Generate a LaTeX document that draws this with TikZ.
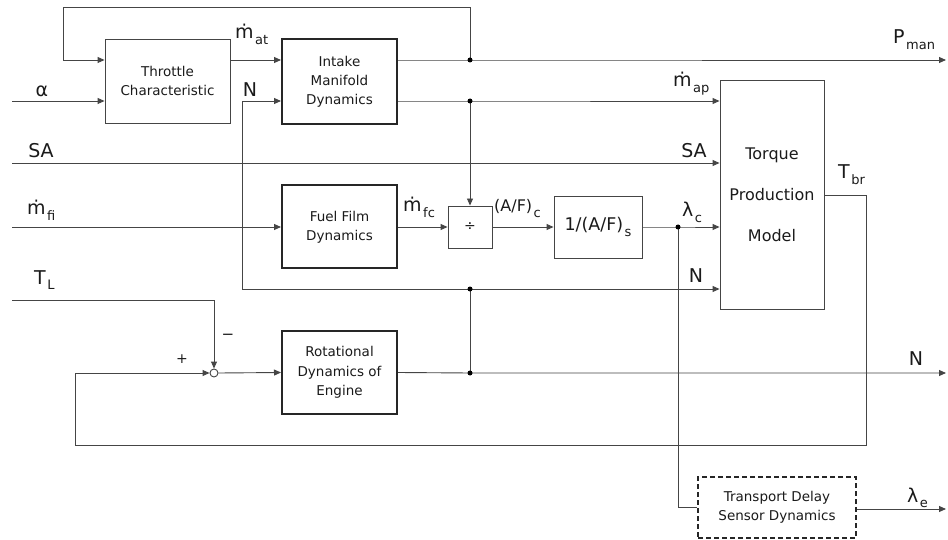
\documentclass[tikz,border=0pt]{standalone}
\usepackage{fontspec}
\setmainfont{DejaVu Sans}
\usetikzlibrary{arrows.meta}
\newcommand{\lsub}[1]{\kern1.5pt\raisebox{-5.5pt}{\fontsize{13}{13}\selectfont #1}}
\definecolor{ln}{HTML}{454545}
\definecolor{tx}{HTML}{1A1A1A}
\begin{document}
\begin{tikzpicture}[x=1pt,y=-1pt,
  line/.style={draw=ln, line width=0.9pt},
  arr/.style={line, -{Triangle[length=7pt,width=6pt]}},
  blk/.style={draw=ln, line width=0.9pt, align=center, text=tx, inner sep=0pt,
    font=\fontsize{13.5}{19}\selectfont},
  tblk/.style={blk, draw=black!85, line width=2pt},
  lab/.style={text=tx, inner sep=0pt, font=\fontsize{19}{19}\selectfont},
  jdot/.style={circle, fill=black, inner sep=0pt, minimum size=5pt}]
\useasboundingbox (0,0) rectangle (948,540);

% blocks
\node[blk, minimum width=125pt, minimum height=84pt] (thr) at (167.5,81) {Throttle\\Characteristic};
\node[tblk, minimum width=115pt, minimum height=85pt] (imd) at (339.5,81.5) {Intake\\Manifold\\Dynamics};
\node[tblk, minimum width=115pt, minimum height=83pt] (ffd) at (339.5,227) {Fuel Film\\Dynamics};
\node[blk, minimum width=44pt, minimum height=42pt, font=\fontsize{14}{14}\selectfont] (div) at (470,227) {÷};
\node[blk, minimum width=88pt, minimum height=62pt, font=\fontsize{17.5}{17.5}\selectfont] (inv) at (598,227) {1/(A/F)\lsub{s}};
\node[blk, minimum width=104pt, minimum height=229pt, font=\fontsize{16}{41}\selectfont] (tpm) at (772,194.5) {Torque\\Production\\Model};
\node[tblk, minimum width=115pt, minimum height=83pt, font=\fontsize{13.5}{19.5}\selectfont] (rot) at (339.5,372.5) {Rotational\\Dynamics of\\Engine};
\node[blk, dashed, draw=black!85, line width=2pt, dash pattern=on 5pt off 3pt, minimum width=158pt, minimum height=61pt] (tds) at (777,507.5) {Transport Delay\\Sensor Dynamics};
\node[circle, draw=ln, line width=0.9pt, fill=white, inner sep=0pt, minimum size=8pt] (sum) at (214,373) {};

% junctions and ends
\coordinate (j1) at (470,60);
\coordinate (j2) at (470,101);
\coordinate (j3) at (470,289);
\coordinate (j4) at (470,373);
\coordinate (j5) at (678,227);
\coordinate (inA) at (12,101);
\coordinate (inSA) at (12,163);
\coordinate (inMf) at (12,227);
\coordinate (inTL) at (12,300);
\coordinate (outP) at (946,60);
\coordinate (outN) at (946,373);
\coordinate (outL) at (946,509);
\coordinate (c2) at (63,7);
\coordinate (cN) at (242,101);
\coordinate (tb1) at (866,195);
\coordinate (tb2) at (75,445);

% connectors
\draw[arr] (imd.east |- j1) -- (j1) -- (outP);
\draw[arr] (j1) |- (c2) |- (thr.west |- j1);
\draw[arr] (inA) -- (thr.west |- inA);
\draw[arr] (thr.east |- j1) -- (imd.west |- j1);
\draw[arr] (j3) -| (cN) -- (imd.west |- cN);
\draw[arr] (j3) -- (tpm.west |- j3);
\draw[arr] (imd.east |- j2) -- (j2) -- (tpm.west |- j2);
\draw[arr] (j2) -- (div.north);
\draw[arr] (inSA) -- (tpm.west |- inSA);
\draw[arr] (inMf) -- (ffd.west);
\draw[arr] (ffd.east) -- (div.west);
\draw[arr] (div.east) -- (inv.west);
\draw[arr] (inv.east) -- (j5) -- (tpm.west |- j5);
\draw[line] (j5) |- (tds.west);
\draw[arr] (tds.east |- outL) -- (outL);
\draw[arr] (inTL) -| (sum.north);
\draw[arr] (sum.east) -- (rot.west);
\draw[arr] (rot.east) -- (j4) -- (outN);
\draw[line] (j4) -- (j3);
\draw[arr] (tpm.east |- tb1) -- (tb1) |- (tb2) |- (sum.west);

\foreach \j in {j1,j2,j3,j4,j5} \node[jdot] at (\j) {};

% labels
\node[lab] at (42,91) {α};
\node[lab, anchor=base west] at (235,39) {ṁ\lsub{at}};
\node[lab] at (250,90) {N};
\node[lab, anchor=base west] at (673,87) {ṁ\lsub{ap}};
\node[lab, anchor=base west] at (893,44) {P\lsub{man}};
\node[lab] at (694,151) {SA};
\node[lab] at (41,151) {SA};
\node[lab, anchor=base west] at (27,215) {ṁ\lsub{fi}};
\node[lab, anchor=base west] at (403,212) {ṁ\lsub{fc}};
\node[lab, anchor=base west, font=\fontsize{16}{16}\selectfont] at (494,212) {(A/F)\lsub{c}};
\node[lab, anchor=base west] at (682,217) {λ\lsub{c}};
\node[lab, anchor=base west] at (838,179) {T\lsub{br}};
\node[lab] at (696,276) {N};
\node[lab, anchor=base west] at (34,284) {T\lsub{L}};
\node[lab, font=\fontsize{15}{15}\selectfont] at (228,337) {−};
\node[lab, font=\fontsize{14}{14}\selectfont] at (182,359) {+};
\node[lab] at (916,359) {N};
\node[lab, anchor=base west] at (907,502) {λ\lsub{e}};
\end{tikzpicture}
\end{document}
